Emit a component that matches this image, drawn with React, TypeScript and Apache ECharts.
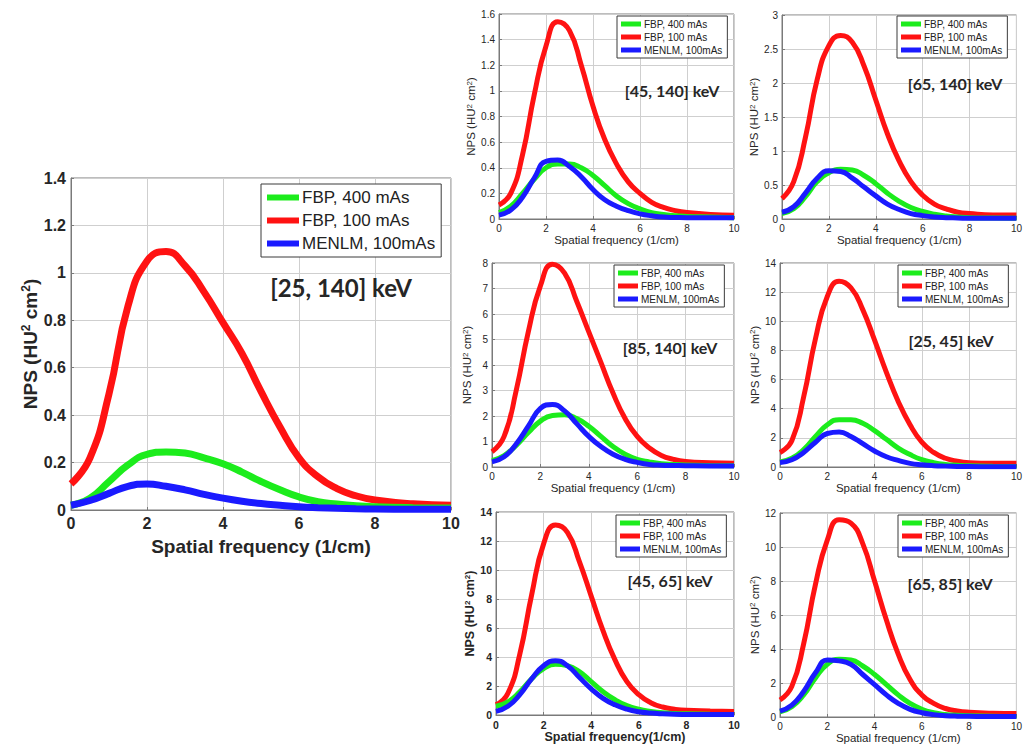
import React, { useEffect, useRef } from "react";
import * as echarts from "echarts";

// Spatial frequency sample points (1/cm)
const freq = [0, 0.5, 1, 1.5, 2, 2.5, 3, 3.5, 4, 4.5, 5, 5.5, 6, 6.5, 7, 7.5, 8, 9, 10];
const seriesNames = ["FBP, 400 mAs", "FBP, 100 mAs", "MENLM, 100mAs"];
const panelLabels = [
  "[25, 140] keV",
  "[45, 140] keV",
  "[65, 140] keV",
  "[85, 140] keV",
  "[25, 45] keV",
  "[45, 65] keV",
  "[65, 85] keV",
];
const xTicks = [0, 10, 2]; // min, max, interval
const yMaxes = [1.4, 1.6, 3, 8, 14, 14, 12];
const yIntervals = [0.2, 0.2, 0.5, 1, 2, 2, 2];

// [25, 140] keV
const p0_fbp400 = [0.02, 0.05, 0.12, 0.19, 0.235, 0.245, 0.24, 0.22, 0.195, 0.16, 0.12, 0.085, 0.055, 0.035, 0.025, 0.018, 0.014, 0.01, 0.008];
const p0_fbp100 = [0.11, 0.22, 0.49, 0.86, 1.05, 1.09, 1.03, 0.92, 0.79, 0.66, 0.5, 0.35, 0.22, 0.14, 0.09, 0.06, 0.042, 0.026, 0.02];
const p0_menlm = [0.02, 0.04, 0.07, 0.1, 0.11, 0.1, 0.085, 0.066, 0.05, 0.037, 0.027, 0.02, 0.014, 0.01, 0.007, 0.005, 0.004, 0.003, 0.003];
// [45, 140] keV
const p1_fbp400 = [0.05, 0.1, 0.2, 0.31, 0.4, 0.43, 0.43, 0.4, 0.34, 0.26, 0.18, 0.12, 0.08, 0.05, 0.035, 0.025, 0.02, 0.015, 0.01];
const p1_fbp100 = [0.11, 0.2, 0.5, 0.97, 1.35, 1.54, 1.47, 1.2, 0.88, 0.62, 0.43, 0.29, 0.2, 0.13, 0.09, 0.065, 0.05, 0.035, 0.03];
const p1_menlm = [0.03, 0.07, 0.17, 0.32, 0.45, 0.46, 0.41, 0.33, 0.23, 0.15, 0.1, 0.065, 0.04, 0.025, 0.015, 0.012, 0.01, 0.01, 0.01];
// [65, 140] keV
const p2_fbp400 = [0.08, 0.15, 0.33, 0.55, 0.68, 0.73, 0.72, 0.64, 0.52, 0.38, 0.26, 0.17, 0.11, 0.07, 0.045, 0.03, 0.02, 0.015, 0.01];
const p2_fbp100 = [0.3, 0.55, 1.2, 2.05, 2.55, 2.7, 2.6, 2.25, 1.75, 1.25, 0.85, 0.55, 0.35, 0.22, 0.15, 0.1, 0.08, 0.06, 0.06];
const p2_menlm = [0.1, 0.18, 0.38, 0.6, 0.71, 0.7, 0.6, 0.47, 0.34, 0.22, 0.14, 0.08, 0.05, 0.03, 0.02, 0.015, 0.01, 0.01, 0.01];
// [85, 140] keV
const p3_fbp400 = [0.25, 0.45, 0.85, 1.35, 1.8, 2.02, 2.05, 1.9, 1.6, 1.2, 0.8, 0.5, 0.3, 0.2, 0.13, 0.1, 0.08, 0.06, 0.05];
const p3_fbp100 = [0.6, 1.2, 3.0, 5.3, 7.1, 7.95, 7.6, 6.5, 5.3, 4.1, 2.9, 1.9, 1.2, 0.75, 0.45, 0.3, 0.22, 0.17, 0.15];
const p3_menlm = [0.2, 0.4, 0.9, 1.6, 2.3, 2.45, 2.2, 1.7, 1.2, 0.8, 0.5, 0.3, 0.18, 0.1, 0.07, 0.06, 0.05, 0.04, 0.04];
// [25, 45] keV
const p4_fbp400 = [0.35, 0.6, 1.2, 2.1, 2.9, 3.25, 3.25, 3.0, 2.5, 1.9, 1.3, 0.85, 0.5, 0.3, 0.18, 0.12, 0.08, 0.05, 0.04];
const p4_fbp100 = [1.0, 1.8, 4.8, 8.8, 11.7, 12.75, 12.3, 10.8, 8.7, 6.5, 4.5, 2.9, 1.7, 1.0, 0.6, 0.4, 0.3, 0.25, 0.25];
const p4_menlm = [0.3, 0.5, 1.0, 1.7, 2.3, 2.4, 2.1, 1.6, 1.1, 0.7, 0.45, 0.25, 0.15, 0.09, 0.06, 0.04, 0.03, 0.02, 0.02];
// [45, 65] keV
const p5_fbp400 = [0.6, 0.9, 1.6, 2.5, 3.2, 3.5, 3.4, 3.0, 2.3, 1.6, 1.05, 0.65, 0.4, 0.25, 0.15, 0.1, 0.08, 0.05, 0.04];
const p5_fbp100 = [0.7, 1.5, 4.2, 8.3, 11.8, 13.1, 12.6, 10.6, 8.2, 5.8, 3.8, 2.3, 1.4, 0.85, 0.55, 0.4, 0.32, 0.28, 0.25];
const p5_menlm = [0.25, 0.6, 1.4, 2.5, 3.4, 3.75, 3.4, 2.6, 1.8, 1.15, 0.7, 0.4, 0.22, 0.13, 0.08, 0.05, 0.04, 0.03, 0.03];
// [65, 85] keV
const p6_fbp400 = [0.3, 0.6, 1.3, 2.3, 3.1, 3.4, 3.35, 3.0, 2.5, 1.9, 1.3, 0.8, 0.45, 0.25, 0.15, 0.1, 0.07, 0.04, 0.03];
const p6_fbp100 = [1.0, 1.8, 4.3, 7.8, 10.4, 11.6, 11.4, 10.2, 8.0, 5.7, 3.7, 2.2, 1.3, 0.8, 0.5, 0.35, 0.28, 0.22, 0.2];
const p6_menlm = [0.35, 0.7, 1.5, 2.6, 3.35, 3.3, 3.1, 2.5, 1.9, 1.3, 0.8, 0.45, 0.25, 0.14, 0.08, 0.05, 0.04, 0.03, 0.03];

const panelData = [
  [p0_fbp400, p0_fbp100, p0_menlm],
  [p1_fbp400, p1_fbp100, p1_menlm],
  [p2_fbp400, p2_fbp100, p2_menlm],
  [p3_fbp400, p3_fbp100, p3_menlm],
  [p4_fbp400, p4_fbp100, p4_menlm],
  [p5_fbp400, p5_fbp100, p5_menlm],
  [p6_fbp400, p6_fbp100, p6_menlm],
];

const COLORS = ["#1cec1c", "#ff1212", "#1a1aff"];
const AX = "'Liberation Sans', Arial, sans-serif";
const NOTE = "Lato, 'Open Sans', sans-serif";

type Layout = {
  grid: { left: number; top: number; width: number; height: number };
  legend: { left: number; top: number };
  note: { x: number; y: number };
  kind: "big" | "small" | "bold";
  xName: string;
};

const layouts: Layout[] = [
  { grid: { left: 71, top: 178, width: 380, height: 332 }, legend: { left: 261, top: 184 }, note: { x: 341, y: 287 }, kind: "big", xName: "Spatial frequency (1/cm)" },
  { grid: { left: 499, top: 14, width: 235, height: 205 }, legend: { left: 617, top: 16 }, note: { x: 672, y: 90 }, kind: "small", xName: "Spatial frequency (1/cm)" },
  { grid: { left: 782, top: 15, width: 236, height: 204 }, legend: { left: 897, top: 16 }, note: { x: 955, y: 83 }, kind: "small", xName: "Spatial frequency (1/cm)" },
  { grid: { left: 492, top: 263, width: 242, height: 204 }, legend: { left: 614, top: 265 }, note: { x: 670, y: 347 }, kind: "small", xName: "Spatial frequency (1/cm)" },
  { grid: { left: 780, top: 263, width: 238, height: 204 }, legend: { left: 898, top: 265 }, note: { x: 951, y: 340 }, kind: "small", xName: "Spatial frequency (1/cm)" },
  { grid: { left: 496, top: 512, width: 238, height: 203 }, legend: { left: 616, top: 515 }, note: { x: 670, y: 580 }, kind: "bold", xName: "Spatial frequency(1/cm)" },
  { grid: { left: 780, top: 513, width: 238, height: 204 }, legend: { left: 898, top: 515 }, note: { x: 950, y: 583 }, kind: "small", xName: "Spatial frequency (1/cm)" },
];

function sty(kind: string) {
  if (kind === "big")
    return { tick: 16, tickW: "bold", name: 19, nameW: "bold", sup: 12, lw: 7, legFont: 17, legW: 32, legH: 6, legGap: 6, legPad: [5, 6, 5, 6], note: 24, xGap: 27, yGap: 30, lblM: 5 };
  if (kind === "bold")
    return { tick: 10.5, tickW: "bold", name: 12.5, nameW: "bold", sup: 8, lw: 5, legFont: 10, legW: 20, legH: 5, legGap: 3, legPad: [3, 5, 3, 4], note: 16, xGap: 13, yGap: 19, lblM: 4 };
  return { tick: 10, tickW: "normal", name: 11.5, nameW: "normal", sup: 8, lw: 5, legFont: 10, legW: 20, legH: 5, legGap: 3, legPad: [3, 5, 3, 4], note: 16, xGap: 14, yGap: 19, lblM: 4 };
}

export default function App() {
  const ref = useRef<HTMLDivElement>(null);
  useEffect(() => {
    if (!ref.current) return;
    const chart = echarts.init(ref.current, null, { renderer: "svg" });
    const grids: any[] = [];
    const xAxes: any[] = [];
    const yAxes: any[] = [];
    const series: any[] = [];
    const legends: any[] = [];
    const graphics: any[] = [];

    layouts.forEach((L, i) => {
      const s = sty(L.kind);
      grids.push({ ...L.grid, show: true, borderColor: "#7a7a7a", borderWidth: 1, backgroundColor: "#fff" });
      const lblStyle = { fontFamily: AX, fontSize: s.tick, fontWeight: s.tickW, color: "#262626" };
      xAxes.push({
        type: "value",
        gridIndex: i,
        min: xTicks[0],
        max: xTicks[1],
        interval: xTicks[2],
        name: L.xName,
        nameLocation: "middle",
        nameGap: s.xGap,
        nameTextStyle: { fontFamily: AX, fontSize: s.name, fontWeight: s.nameW, color: "#262626" },
        axisLine: { show: true, lineStyle: { color: "#7a7a7a" } },
        axisTick: { show: true, inside: true, length: 3, lineStyle: { color: "#7a7a7a" } },
        axisLabel: { ...lblStyle, margin: s.lblM },
        splitLine: { show: true, lineStyle: { color: "#cfcfcf", width: 1 } },
      });
      yAxes.push({
        type: "value",
        gridIndex: i,
        min: 0,
        max: yMaxes[i],
        interval: yIntervals[i],
        name: "{a|NPS (HU}{s|2}{a| cm}{s|2}{a|)}",
        nameLocation: "middle",
        nameRotate: 90,
        nameGap: s.yGap,
        nameTextStyle: {
          rich: {
            a: { fontFamily: AX, fontSize: s.name, fontWeight: s.nameW, color: "#262626", verticalAlign: "bottom", lineHeight: Math.round(s.name * 1.05) },
            s: { fontFamily: AX, fontSize: s.sup, fontWeight: s.nameW, color: "#262626", verticalAlign: "top", lineHeight: s.sup },
          },
        },
        axisLine: { show: true, lineStyle: { color: "#7a7a7a" } },
        axisTick: { show: true, inside: true, length: 3, lineStyle: { color: "#7a7a7a" } },
        axisLabel: { ...lblStyle, margin: s.lblM },
        splitLine: { show: true, lineStyle: { color: "#cfcfcf", width: 1 } },
      });
      panelData[i].forEach((vals, k) => {
        series.push({
          type: "line",
          name: seriesNames[k],
          xAxisIndex: i,
          yAxisIndex: i,
          data: freq.map((f, j) => [f, vals[j]]),
          smooth: true,
          symbol: "none",
          color: COLORS[k],
          lineStyle: { color: COLORS[k], width: s.lw },
          z: k === 1 ? 2 : k === 0 ? 3 : 4,
        });
      });
      legends.push({
        data: seriesNames,
        orient: "vertical",
        left: L.legend.left,
        top: L.legend.top,
        icon: "rect",
        itemWidth: s.legW,
        itemHeight: s.legH,
        itemGap: s.legGap,
        padding: s.legPad,
        borderColor: "#3a3a3a",
        borderWidth: 1,
        backgroundColor: "#fff",
        selectedMode: false,
        textStyle: { fontFamily: AX, fontSize: s.legFont, color: "#222", padding: [0, 0, 0, -2] },
        z: 10,
      });
      graphics.push({
        type: "text",
        x: L.note.x,
        y: L.note.y,
        z: 20,
        style: {
          text: panelLabels[i],
          font: `bold ${s.note}px ${NOTE}`,
          fill: "#262626",
          textAlign: "center",
          textVerticalAlign: "middle",
        },
      });
    });

    chart.setOption({
      animation: false,
      backgroundColor: "#fff",
      grid: grids,
      xAxis: xAxes,
      yAxis: yAxes,
      legend: legends,
      series,
      graphic: graphics,
    });
    return () => chart.dispose();
  }, []);
  return <div ref={ref} style={{ position: "absolute", left: 0, top: 0, width: 1025, height: 753 }} />;
}
